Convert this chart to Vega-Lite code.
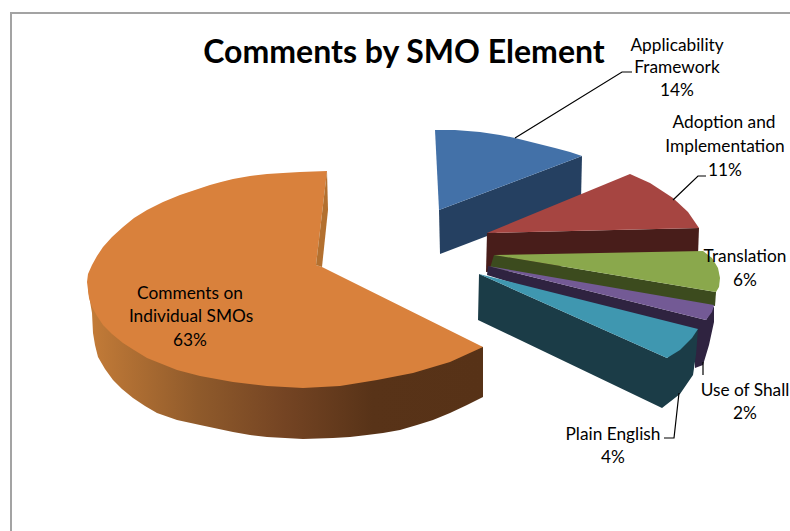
{
  "$schema": "https://vega.github.io/schema/vega-lite/v6.json",
  "width": 790,
  "height": 531,
  "padding": 0,
  "autosize": {"type": "none"},
  "background": "white",
  "view": {"stroke": null},
  "datasets": {
    "frame": [
      {"n": 0, "x": 11, "y": 531},
      {"n": 1, "x": 11, "y": 13},
      {"n": 2, "x": 790, "y": 13}
    ],
    "orangeSide": [
      {"n":0,"x":88,"y":290},{"n":1,"x":483,"y":347},{"n":2,"x":483,"y":397},{"n":3,"x":467,"y":405},{"n":4,"x":450,"y":413},{"n":5,"x":433,"y":420},{"n":6,"x":417,"y":425},{"n":7,"x":400,"y":430},{"n":8,"x":383,"y":433},{"n":9,"x":367,"y":435},{"n":10,"x":350,"y":437},{"n":11,"x":333,"y":438},{"n":12,"x":303,"y":439},{"n":13,"x":285,"y":438},{"n":14,"x":267,"y":437},{"n":15,"x":250,"y":435},{"n":16,"x":233,"y":432},{"n":17,"x":200,"y":425},{"n":18,"x":177,"y":420},{"n":19,"x":157,"y":413},{"n":20,"x":145,"y":406},{"n":21,"x":133,"y":398},{"n":22,"x":122,"y":389},{"n":23,"x":113,"y":380},{"n":24,"x":105,"y":369},{"n":25,"x":98,"y":357},{"n":26,"x":95,"y":345},{"n":27,"x":93,"y":333},{"n":28,"x":92,"y":313}
    ],
    "faces": [
      {"part":"orange top","n":0,"x":327,"y":171},{"part":"orange top","n":1,"x":300,"y":172},{"part":"orange top","n":2,"x":283,"y":173},{"part":"orange top","n":3,"x":267,"y":174},{"part":"orange top","n":4,"x":250,"y":176},{"part":"orange top","n":5,"x":233,"y":179},{"part":"orange top","n":6,"x":221,"y":182},{"part":"orange top","n":7,"x":210,"y":185},{"part":"orange top","n":8,"x":195,"y":190},{"part":"orange top","n":9,"x":180,"y":195},{"part":"orange top","n":10,"x":163,"y":202},{"part":"orange top","n":11,"x":147,"y":210},{"part":"orange top","n":12,"x":134,"y":218},{"part":"orange top","n":13,"x":123,"y":227},{"part":"orange top","n":14,"x":112,"y":237},{"part":"orange top","n":15,"x":103,"y":247},{"part":"orange top","n":16,"x":97,"y":256},{"part":"orange top","n":17,"x":92,"y":265},{"part":"orange top","n":18,"x":88,"y":274},{"part":"orange top","n":19,"x":87,"y":282},{"part":"orange top","n":20,"x":88,"y":290},{"part":"orange top","n":21,"x":89,"y":298},{"part":"orange top","n":22,"x":92,"y":307},{"part":"orange top","n":23,"x":97,"y":316},{"part":"orange top","n":24,"x":103,"y":325},{"part":"orange top","n":25,"x":112,"y":334},{"part":"orange top","n":26,"x":123,"y":343},{"part":"orange top","n":27,"x":134,"y":350},{"part":"orange top","n":28,"x":147,"y":358},{"part":"orange top","n":29,"x":162,"y":364},{"part":"orange top","n":30,"x":177,"y":370},{"part":"orange top","n":31,"x":200,"y":376},{"part":"orange top","n":32,"x":233,"y":382},{"part":"orange top","n":33,"x":267,"y":386},{"part":"orange top","n":34,"x":303,"y":388},{"part":"orange top","n":35,"x":340,"y":386},{"part":"orange top","n":36,"x":377,"y":380},{"part":"orange top","n":37,"x":413,"y":373},{"part":"orange top","n":38,"x":450,"y":362},{"part":"orange top","n":39,"x":483,"y":347},{"part":"orange top","n":40,"x":322,"y":267},{"part":"orange top","n":41,"x":316,"y":265},
      {"part":"orange wall","n":0,"x":327,"y":171},{"part":"orange wall","n":1,"x":328,"y":210},{"part":"orange wall","n":2,"x":322,"y":267},{"part":"orange wall","n":3,"x":316,"y":265},
      {"part":"blue side","n":0,"x":582,"y":156},{"part":"blue side","n":1,"x":581,"y":200},{"part":"blue side","n":2,"x":440,"y":254},{"part":"blue side","n":3,"x":439,"y":210},
      {"part":"blue top","n":0,"x":435,"y":130},{"part":"blue top","n":1,"x":455,"y":130},{"part":"blue top","n":2,"x":480,"y":132},{"part":"blue top","n":3,"x":500,"y":135},{"part":"blue top","n":4,"x":515,"y":138},{"part":"blue top","n":5,"x":535,"y":143},{"part":"blue top","n":6,"x":555,"y":148},{"part":"blue top","n":7,"x":570,"y":152},{"part":"blue top","n":8,"x":582,"y":156},{"part":"blue top","n":9,"x":439,"y":210},
      {"part":"red side","n":0,"x":487,"y":233},{"part":"red side","n":1,"x":699,"y":228},{"part":"red side","n":2,"x":698,"y":255},{"part":"red side","n":3,"x":486,"y":272},
      {"part":"red top","n":0,"x":487,"y":233},{"part":"red top","n":1,"x":630,"y":174},{"part":"red top","n":2,"x":650,"y":183},{"part":"red top","n":3,"x":673,"y":198},{"part":"red top","n":4,"x":688,"y":212},{"part":"red top","n":5,"x":699,"y":228},
      {"part":"green side","n":0,"x":494,"y":255},{"part":"green side","n":1,"x":716,"y":292},{"part":"green side","n":2,"x":715,"y":306},{"part":"green side","n":3,"x":490,"y":268},
      {"part":"green top","n":0,"x":494,"y":255},{"part":"green top","n":1,"x":703,"y":251},{"part":"green top","n":2,"x":712,"y":258},{"part":"green top","n":3,"x":718,"y":268},{"part":"green top","n":4,"x":720,"y":278},{"part":"green top","n":5,"x":719,"y":287},{"part":"green top","n":6,"x":716,"y":292},
      {"part":"purple side","n":0,"x":488,"y":266},{"part":"purple side","n":1,"x":706,"y":320},{"part":"purple side","n":2,"x":714,"y":306},{"part":"purple side","n":3,"x":714,"y":322},{"part":"purple side","n":4,"x":709,"y":345},{"part":"purple side","n":5,"x":703,"y":365},{"part":"purple side","n":6,"x":695,"y":368},{"part":"purple side","n":7,"x":695,"y":340},{"part":"purple side","n":8,"x":487,"y":275},
      {"part":"purple top","n":0,"x":488,"y":266},{"part":"purple top","n":1,"x":714,"y":305},{"part":"purple top","n":2,"x":712,"y":312},{"part":"purple top","n":3,"x":706,"y":320},
      {"part":"teal side","n":0,"x":479,"y":274},{"part":"teal side","n":1,"x":667,"y":358},{"part":"teal side","n":2,"x":698,"y":329},{"part":"teal side","n":3,"x":696,"y":355},{"part":"teal side","n":4,"x":693,"y":375},{"part":"teal side","n":5,"x":680,"y":394},{"part":"teal side","n":6,"x":662,"y":408},{"part":"teal side","n":7,"x":478,"y":320},
      {"part":"teal top","n":0,"x":479,"y":274},{"part":"teal top","n":1,"x":698,"y":329},{"part":"teal top","n":2,"x":692,"y":338},{"part":"teal top","n":3,"x":680,"y":350},{"part":"teal top","n":4,"x":667,"y":358}
    ],
    "leaders": [
      {"slice":"Applicability Framework","n":0,"x":515,"y":138},{"slice":"Applicability Framework","n":1,"x":622,"y":72},{"slice":"Applicability Framework","n":2,"x":632,"y":72},
      {"slice":"Adoption and Implementation","n":0,"x":673,"y":200},{"slice":"Adoption and Implementation","n":1,"x":698,"y":176},{"slice":"Adoption and Implementation","n":2,"x":706,"y":176},
      {"slice":"Use of Shall","n":0,"x":703,"y":362},{"slice":"Use of Shall","n":1,"x":703,"y":375},
      {"slice":"Plain English","n":0,"x":679,"y":393},{"slice":"Plain English","n":1,"x":674,"y":438},{"slice":"Plain English","n":2,"x":664,"y":438}
    ],
    "labels": [
      {"slice":"Applicability Framework","value":14,"text":"Applicability","x":677,"y":46},
      {"slice":"Applicability Framework","value":14,"text":"Framework","x":677,"y":68},
      {"slice":"Applicability Framework","value":14,"text":"14%","x":677,"y":91},
      {"slice":"Adoption and Implementation","value":11,"text":"Adoption and","x":724,"y":123},
      {"slice":"Adoption and Implementation","value":11,"text":"Implementation","x":725,"y":147},
      {"slice":"Adoption and Implementation","value":11,"text":"11%","x":725,"y":171},
      {"slice":"Translation","value":6,"text":"Translation","x":745,"y":257},
      {"slice":"Translation","value":6,"text":"6%","x":745,"y":281},
      {"slice":"Use of Shall","value":2,"text":"Use of Shall","x":745,"y":391},
      {"slice":"Use of Shall","value":2,"text":"2%","x":745,"y":414},
      {"slice":"Plain English","value":4,"text":"Plain English","x":613,"y":435},
      {"slice":"Plain English","value":4,"text":"4%","x":613,"y":458},
      {"slice":"Comments on Individual SMOs","value":63,"text":"Comments on","x":190,"y":294},
      {"slice":"Comments on Individual SMOs","value":63,"text":"Individual SMOs","x":191,"y":317},
      {"slice":"Comments on Individual SMOs","value":63,"text":"63%","x":190,"y":341}
    ],
    "heading": [
      {"text":"Comments by SMO Element","x":404,"y":53}
    ]
  },
  "encoding": {
    "x": {"field": "x", "type": "quantitative", "scale": {"domain": [0, 790], "nice": false, "zero": false}, "axis": null},
    "y": {"field": "y", "type": "quantitative", "scale": {"domain": [531, 0], "nice": false, "zero": false}, "axis": null}
  },
  "layer": [
    {
      "data": {"name": "frame"},
      "mark": {"type": "line", "stroke": "#a3a3a3", "strokeWidth": 2, "clip": false},
      "encoding": {"order": {"field": "n", "type": "quantitative"}}
    },
    {
      "data": {"name": "orangeSide"},
      "mark": {
        "type": "line",
        "strokeWidth": 0,
        "fill": {
          "gradient": "linear", "x1": 0, "y1": 0, "x2": 1, "y2": 0,
          "stops": [
            {"offset": 0, "color": "#c47c38"},
            {"offset": 0.28, "color": "#8f5a2b"},
            {"offset": 0.5, "color": "#744423"},
            {"offset": 0.72, "color": "#583318"},
            {"offset": 1, "color": "#573217"}
          ]
        }
      },
      "encoding": {"order": {"field": "n", "type": "quantitative"}}
    },
    {
      "data": {"name": "faces"},
      "mark": {"type": "line", "strokeWidth": 0},
      "encoding": {
        "order": {"field": "n", "type": "quantitative"},
        "detail": {"field": "part"},
        "fill": {
          "field": "part",
          "type": "nominal",
          "legend": null,
          "scale": {
            "domain": ["orange top", "orange wall", "blue side", "blue top", "red side", "red top", "green side", "green top", "purple side", "purple top", "teal side", "teal top"],
            "range": ["#d9813c", "#b3702f", "#254061", "#4371a8", "#481d1a", "#a64541", "#3c4b1e", "#8aa84c", "#2f2340", "#735a95", "#1b3c47", "#3f97b0"]
          }
        }
      }
    },
    {
      "data": {"name": "leaders"},
      "mark": {"type": "line", "stroke": "#000000", "strokeWidth": 1.2},
      "encoding": {
        "order": {"field": "n", "type": "quantitative"},
        "detail": {"field": "slice"}
      }
    },
    {
      "data": {"name": "labels"},
      "mark": {"type": "text", "font": "Lato", "fontSize": 17.3, "color": "#000000", "align": "center", "baseline": "middle"},
      "encoding": {"text": {"field": "text"}}
    },
    {
      "data": {"name": "heading"},
      "mark": {"type": "text", "font": "Lato", "fontSize": 32, "fontWeight": "bold", "color": "#000000", "align": "center", "baseline": "middle"},
      "encoding": {"text": {"field": "text"}}
    }
  ]
}
